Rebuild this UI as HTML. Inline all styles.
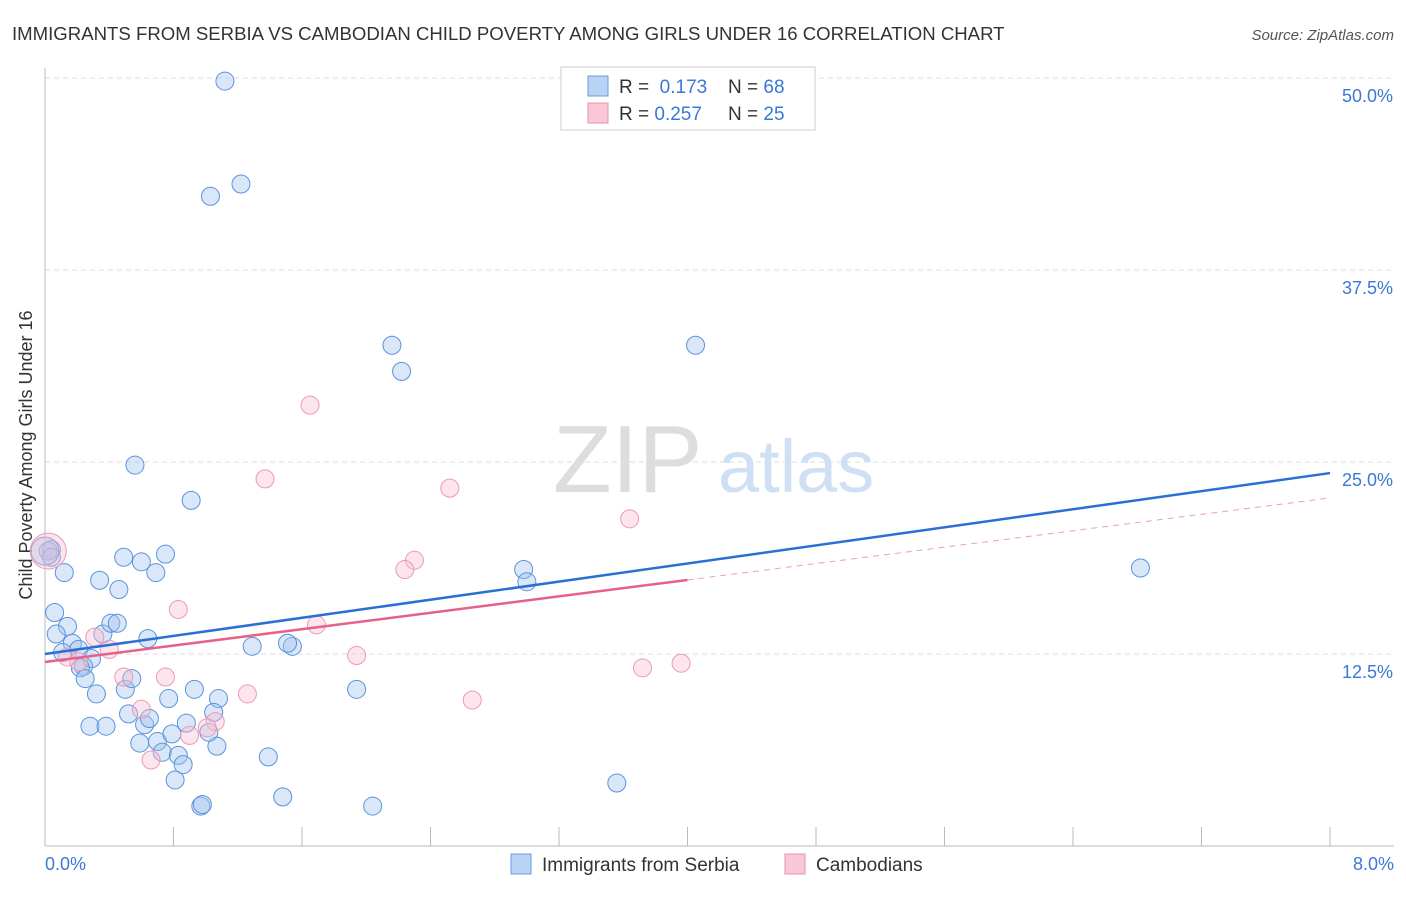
<!DOCTYPE html>
<html><head><meta charset="utf-8"><style>
body{margin:0;background:#fff;font-family:"Liberation Sans",sans-serif;}
svg text{font-family:"Liberation Sans",sans-serif;}
</style></head><body>
<svg width="1406" height="892" xmlns="http://www.w3.org/2000/svg" id="chart">
<text x="12" y="40" font-size="18.6" fill="#333">IMMIGRANTS FROM SERBIA VS CAMBODIAN CHILD POVERTY AMONG GIRLS UNDER 16 CORRELATION CHART</text>
<text x="1394" y="40" font-size="15" fill="#555" font-style="italic" text-anchor="end">Source: ZipAtlas.com</text>
<g id="grid"></g>
<line x1="45" y1="68" x2="45" y2="846" stroke="#bbb"/>
<line x1="45" y1="846" x2="1394" y2="846" stroke="#bbb"/>
<text x="32" y="455" font-size="18" fill="#333" text-anchor="middle" transform="rotate(-90 32 455)">Child Poverty Among Girls Under 16</text>
<text x="553" y="492" font-size="96" fill="#ddd" font-family="Liberation Serif">ZIP</text>
<text x="718" y="492" font-size="74" fill="#cfe0f5">atlas</text>
<g id="pts"></g>
<g id="lines"></g>
<g>
<rect x="561" y="67" width="254" height="63" fill="#fff" stroke="#ccc"/>
<rect x="588" y="76" width="20" height="20" fill="#b9d3f5" stroke="#6a9be0"/>
<rect x="588" y="103" width="20" height="20" fill="#f9c8d6" stroke="#e890aa"/>
<text x="619" y="93" font-size="19" fill="#333">R = <tspan fill="#3a78d8">&#160;0.173</tspan><tspan x="728">N = </tspan><tspan fill="#3a78d8">68</tspan></text>
<text x="619" y="120" font-size="19" fill="#333">R = <tspan fill="#3a78d8">0.257</tspan><tspan x="728">N = </tspan><tspan fill="#3a78d8">25</tspan></text>
</g>
<g>
<rect x="511" y="854" width="20" height="20" fill="#b9d3f5" stroke="#6a9be0"/>
<text x="542" y="871" font-size="19" fill="#333">Immigrants from Serbia</text>
<rect x="785" y="854" width="20" height="20" fill="#f9c8d6" stroke="#e890aa"/>
<text x="816" y="871" font-size="19" fill="#333">Cambodians</text>
</g>
</svg>
<script>
const yTicks=[12.5,25,37.5,50];
const yTickLabels=["12.5%","25.0%","37.5%","50.0%"];
const xTickLabels=["0.0%","8.0%"];
const serbiaX=[1.12,1.03,1.22,2.16,2.22,4.05,0.56,0.91,0.04,0.12,0.49,0.6,0.75,0.69,0.34,0.46,0.06,0.14,0.07,0.17,0.36,0.41,0.45,0.64,0.11,0.21,0.29,0.24,0.22,0.25,0.32,0.5,0.54,0.77,0.93,1.08,0.28,0.38,0.52,0.62,0.65,0.59,0.7,0.79,0.73,0.83,0.86,0.88,1.05,1.07,1.02,0.81,0.97,0.98,1.39,1.48,2.04,1.29,1.54,1.51,1.94,2.98,3.0,3.56,6.82,0.02,0.04,0.0];
const serbiaY=[49.8,42.3,43.1,32.6,30.9,32.6,24.8,22.5,19.3,17.8,18.8,18.5,19.0,17.8,17.3,16.7,15.2,14.3,13.8,13.2,13.8,14.5,14.5,13.5,12.6,12.8,12.2,11.7,11.6,10.9,9.9,10.2,10.9,9.6,10.2,9.6,7.8,7.8,8.6,7.9,8.3,6.7,6.8,7.3,6.1,5.9,5.3,8.0,8.7,6.5,7.4,4.3,2.6,2.7,5.8,3.2,2.6,13.0,13.0,13.2,10.2,18.0,17.2,4.1,18.1,19.2,18.8,19.2];
const cambX=[0.02,1.65,1.37,2.52,3.64,2.3,2.24,0.83,1.69,0.31,0.4,1.94,3.72,3.96,0.75,0.49,1.26,2.66,0.6,1.06,1.01,0.9,0.66,0.14,0.21];
const cambY=[19.2,28.7,23.9,23.3,21.3,18.6,18.0,15.4,14.4,13.6,12.8,12.4,11.6,11.9,11.0,11.0,9.9,9.5,8.9,8.1,7.7,7.2,5.6,12.3,12.0];
const trendSerbia=[12.5,24.28];
const trendCamb=[11.98,22.66];
const NS="http://www.w3.org/2000/svg";
const X=v=>45+v*160.625, Y=v=>846-v*15.36;
const g=document.getElementById('grid'), svg=document.getElementById('chart');
function mk(t,a,p){const e=document.createElementNS(NS,t);for(const k in a)e.setAttribute(k,a[k]);p.appendChild(e);return e;}
yTicks.forEach((t,i)=>{
 const l=mk('line',{x1:45,x2:1394,y1:Y(t),y2:Y(t),stroke:'#ddd','stroke-dasharray':'5,4'},g);
 
 
 const tx=mk('text',{x:1393,y:Y(t)+24,'font-size':18,fill:'#3a78d8','text-anchor':'end'},g);
 tx.textContent=yTickLabels[i];
 
 
});
for(let i=0;i<=10;i++){
 const l=mk('line',{x1:X(i*0.8),x2:X(i*0.8),y1:827,y2:846,stroke:'#bbb'},g);
 
 
}
[[0,'start',45],[8,'end',1394]].forEach((d,i)=>{
 const tx=mk('text',{x:d[2],y:870,'font-size':18,fill:'#3a78d8','text-anchor':d[1]},g);
 tx.textContent=xTickLabels[i];
 
 
});
const P=document.getElementById('pts');
serbiaX.forEach((x,i)=>{
 const big=(i==serbiaX.length-1);
 const c=mk('circle',{cx:X(x),cy:Y(serbiaY[i]),r:big?14:9,fill:'rgba(160,196,240,0.4)',stroke:'#5b93dd','stroke-width':1},P);
 
 
});
cambX.forEach((x,i)=>{
 const c=mk('circle',{cx:X(x),cy:Y(cambY[i]),r:i==0?18:9,fill:'rgba(248,190,208,0.4)',stroke:'#ec9ab2','stroke-width':1},P);
 
 
});
const L=document.getElementById('lines');
const tb=mk('line',{x1:X(0),y1:Y(trendSerbia[0]),x2:X(8),y2:Y(trendSerbia[1]),stroke:'#2a6fd6','stroke-width':2.5},L);


const cy=v=>trendCamb[0]+(trendCamb[1]-trendCamb[0])*v/8;
const tp=mk('line',{x1:X(0),y1:Y(cy(0)),x2:X(4),y2:Y(cy(4)),stroke:'#e8608a','stroke-width':2.5},L);


const td=mk('line',{x1:X(4),y1:Y(cy(4)),x2:X(8),y2:Y(cy(8)),stroke:'#e8a0b8','stroke-width':1,'stroke-dasharray':'6,5'},L);


</script>
</body></html>
